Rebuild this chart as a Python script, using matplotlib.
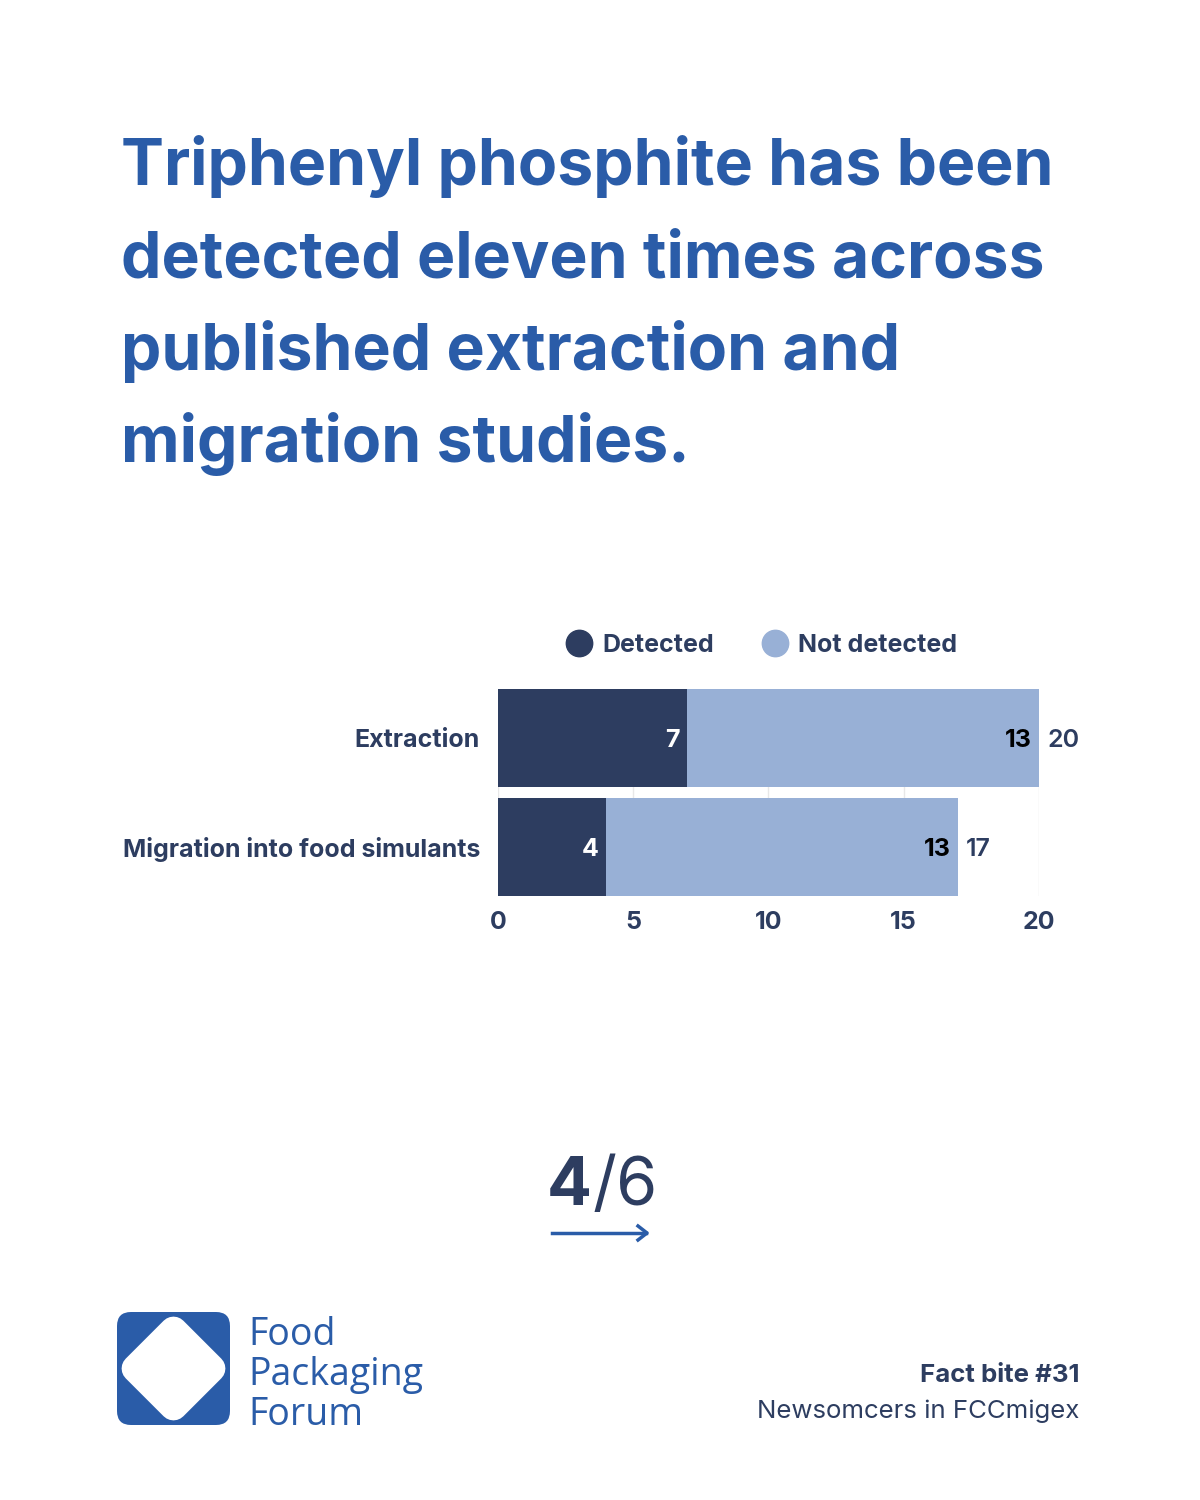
import numpy as np
import matplotlib
matplotlib.use('Agg')
import matplotlib.pyplot as plt
from matplotlib.patches import FancyBboxPatch, Polygon
from matplotlib.lines import Line2D

# data to plot
categories = ['Extraction', 'Migration into food simulants']
detected = [7, 4]
not_detected = [13, 13]
x_ticks = [0, 5, 10, 15, 20]

navy = '#2d3d60'
light = '#98b0d6'
blue = '#2a5ca8'
font = 'Inter'

fig = plt.figure(figsize=(12, 15), dpi=100)
fig.patch.set_facecolor('white')

# title
title_lines = ['Triphenyl phosphite has been',
               'detected eleven times across',
               'published extraction and',
               'migration studies.']
for i, line in enumerate(title_lines):
    fig.text(121 / 1200, 1 - (185 + i * 92.5) / 1500, line, fontsize=46.3,
             fontweight='bold', color=blue, family=font, va='baseline')

# chart
ax = fig.add_axes([498 / 1200, 1 - 896 / 1500, 541 / 1200, 207 / 1500])
y = np.arange(len(categories))
h = 0.895
total = [d + n for d, n in zip(detected, not_detected)]
b1 = ax.barh(y, detected, h, color=navy, label='Detected', zorder=3)
b2 = ax.barh(y, not_detected, h, left=detected, color=light,
             label='Not detected', zorder=3)

for i in range(len(categories)):
    ax.text(detected[i] - 0.28, y[i] + 0.02, str(detected[i]), ha='right',
            va='center', color='white', fontsize=18, fontweight='bold',
            family=font, zorder=4)
    ax.text(total[i] - 0.28, y[i] + 0.02, str(not_detected[i]), ha='right',
            va='center', color='black', fontsize=18, fontweight='bold',
            family=font, zorder=4)
    ax.text(total[i] + 0.3, y[i] + 0.02, str(total[i]), ha='left',
            va='center', color=navy, fontsize=18, fontweight='semibold',
            family=font, zorder=4)

ax.set_xlim(0, 20)
ax.set_ylim(len(categories) - 1 + h / 2, -h / 2)
ax.set_xticks(x_ticks)
ax.set_xticklabels([str(t) for t in x_ticks], fontsize=18, fontweight='bold',
                   color=navy, family=font)
ax.set_yticks(y)
ax.set_yticklabels(categories, fontsize=18, fontweight='bold', color=navy,
                   family=font)
ax.tick_params(length=0)
ax.tick_params(axis='x', pad=11)
ax.tick_params(axis='y', pad=13)
ax.grid(axis='x', color='#e8e8e8', linewidth=1, zorder=0)
for s in ax.spines.values():
    s.set_visible(False)

handles = [Line2D([], [], marker='o', linestyle='', markersize=19, color=navy),
           Line2D([], [], marker='o', linestyle='', markersize=19, color=light)]
leg = ax.legend(handles, ['Detected', 'Not detected'], loc='center',
                bbox_to_anchor=(0.488, 1.0 + 44 / 207), ncol=2, frameon=False,
                prop={'family': font, 'weight': 'bold', 'size': 18},
                handletextpad=0.45, columnspacing=1.9, handlelength=1.0)
for t in leg.get_texts():
    t.set_color(navy)

# page counter
fig.text(592 / 1200, 1 - 1205 / 1500, '4', fontsize=48, fontweight='bold',
         color=navy, family=font, ha='right', va='baseline')
fig.text(592 / 1200, 1 - 1205 / 1500, '/6', fontsize=48, color=navy,
         family=font, ha='left', va='baseline')
fig.add_artist(Line2D([552 / 1200, 646 / 1200], [1 - 1233 / 1500] * 2,
                      color=blue, linewidth=2.5))
fig.add_artist(Line2D([638 / 1200, 647 / 1200, 638 / 1200],
                      [1 - 1226 / 1500, 1 - 1233 / 1500, 1 - 1240 / 1500],
                      color=blue, linewidth=2.5))

# logo
lax = fig.add_axes([0, 0, 1, 1], zorder=-1)
lax.set_xlim(0, 1200)
lax.set_ylim(1500, 0)
lax.axis('off')
lax.add_patch(FancyBboxPatch((117 + 14, 1312 + 14), 113 - 28, 113 - 28,
                             boxstyle='round,pad=14', color=blue, lw=0))
cx, cy = 173.5, 1368.5
r = 38
lax.add_patch(Polygon([(cx, cy - r), (cx + r, cy), (cx, cy + r), (cx - r, cy)],
                      closed=True, facecolor='white', edgecolor='white',
                      lw=20, joinstyle='round'))
for i, word in enumerate(['Food', 'Packaging', 'Forum']):
    lax.text(248, 1345 + i * 40, word, fontsize=27, color=blue,
             family='Open Sans', va='baseline')

# footer
fig.text(1079 / 1200, 1 - 1382 / 1500, 'Fact bite #31', fontsize=18.6,
         fontweight='bold', color=navy, family=font, ha='right', va='baseline')
fig.text(1079 / 1200, 1 - 1418 / 1500, 'Newsomcers in FCCmigex', fontsize=18.6,
         color=navy, family=font, ha='right', va='baseline')

fig.savefig('out.png', dpi=100, facecolor='white')
